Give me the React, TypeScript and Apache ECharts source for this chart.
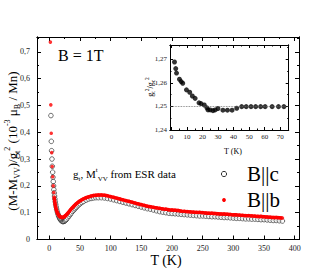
import React, { useEffect, useRef } from 'react';
import * as echarts from 'echarts';

// ---- main plot: B || c (open circles)
const tempC = [2.7, 3.3, 3.8, 4.4, 4.9, 5.5, 6.0, 6.5, 7.0, 7.5, 8.0, 8.6, 9.2, 9.8, 10.5, 11.2, 12, 13, 14, 15, 16, 17, 18, 19, 20, 21, 22, 23, 24, 25, 26, 27, 28, 30, 32, 34, 36, 38, 40, 42, 44, 46, 48, 50, 53, 56, 60, 64, 68, 72, 76, 80, 85, 90, 95, 100, 105, 110, 115, 120, 125, 130, 135, 140, 145, 150, 155, 160, 165, 170, 175, 180, 185, 190, 195, 200, 205, 210, 215, 220, 225, 230, 235, 240, 245, 250, 255, 260, 265, 270, 275, 280, 285, 290, 295, 300, 305, 310, 315, 320, 325, 330, 335, 340, 345, 350, 355, 360, 365, 370, 375, 380];
const momentC = [0.462, 0.366, 0.331, 0.300, 0.273, 0.251, 0.232, 0.216, 0.200, 0.186, 0.174, 0.162, 0.151, 0.141, 0.131, 0.122, 0.113, 0.104, 0.096, 0.089, 0.084, 0.079, 0.075, 0.072, 0.070, 0.068, 0.067, 0.067, 0.068, 0.069, 0.071, 0.073, 0.076, 0.081, 0.087, 0.093, 0.099, 0.105, 0.110, 0.115, 0.120, 0.125, 0.129, 0.133, 0.138, 0.142, 0.147, 0.151, 0.153, 0.155, 0.156, 0.156, 0.156, 0.155, 0.153, 0.151, 0.148, 0.145, 0.142, 0.139, 0.136, 0.133, 0.130, 0.127, 0.124, 0.121, 0.118, 0.115, 0.113, 0.110, 0.107, 0.104, 0.102, 0.100, 0.098, 0.097, 0.096, 0.095, 0.094, 0.093, 0.092, 0.091, 0.090, 0.089, 0.088, 0.088, 0.087, 0.086, 0.085, 0.085, 0.084, 0.083, 0.082, 0.082, 0.081, 0.080, 0.079, 0.079, 0.078, 0.077, 0.077, 0.076, 0.076, 0.075, 0.074, 0.074, 0.073, 0.072, 0.071, 0.071, 0.070, 0.069];

// ---- main plot: B || b (red dots)
const tempB = [1.8, 2.5, 3.2, 4.0, 4.8, 5.6, 6.5, 7.3, 8.0, 8.8, 9.6, 10.5, 11.5, 12.5, 13.5, 14.5, 15.5, 16.5, 17.5, 18.5, 19.5, 20.5, 21.5, 22.5, 23.5, 24.5, 25.5, 26.5, 27.5, 29, 31, 33, 35, 37, 39, 41, 43, 45, 47, 50, 53, 56, 60, 64, 68, 72, 76, 80, 85, 90, 95, 100, 105, 110, 115, 120, 125, 130, 135, 140, 145, 150, 155, 160, 165, 170, 175, 180, 185, 190, 195, 200, 205, 210, 215, 220, 225, 230, 235, 240, 245, 250, 255, 260, 265, 270, 275, 280, 285, 290, 295, 300, 305, 310, 315, 320, 325, 330, 335, 340, 345, 350, 355, 360, 365, 370, 375, 380];
const momentB = [0.736, 0.502, 0.396, 0.324, 0.272, 0.234, 0.200, 0.175, 0.158, 0.143, 0.131, 0.120, 0.111, 0.104, 0.098, 0.094, 0.090, 0.087, 0.085, 0.084, 0.083, 0.082, 0.082, 0.083, 0.084, 0.085, 0.087, 0.089, 0.091, 0.095, 0.100, 0.106, 0.112, 0.117, 0.122, 0.127, 0.131, 0.135, 0.139, 0.144, 0.148, 0.152, 0.156, 0.159, 0.162, 0.164, 0.165, 0.166, 0.166, 0.165, 0.163, 0.160, 0.157, 0.154, 0.151, 0.148, 0.145, 0.142, 0.139, 0.136, 0.133, 0.130, 0.127, 0.124, 0.122, 0.120, 0.118, 0.116, 0.114, 0.113, 0.111, 0.110, 0.109, 0.108, 0.106, 0.105, 0.104, 0.103, 0.102, 0.101, 0.101, 0.100, 0.099, 0.098, 0.098, 0.097, 0.096, 0.095, 0.095, 0.094, 0.093, 0.092, 0.092, 0.091, 0.090, 0.089, 0.089, 0.088, 0.087, 0.086, 0.086, 0.085, 0.084, 0.083, 0.082, 0.082, 0.081, 0.080];

// ---- inset: g ratio vs T
const insetT = [1.9, 2.7, 3.2, 5.1, 6.2, 7.2, 9.6, 11.7, 13.4, 15.2, 17.7, 19.0, 21.1, 22.8, 23.5, 24.9, 26.7, 28.1, 29.9, 33.1, 36.0, 39.0, 42.0, 45.2, 48.1, 51.2, 54.2, 57.4, 60.3, 64.8, 68.9, 72.4];
const insetRatio = [1.2688, 1.2660, 1.2641, 1.2615, 1.2605, 1.2598, 1.2570, 1.2560, 1.2544, 1.2534, 1.2515, 1.2512, 1.2506, 1.2494, 1.2485, 1.2485, 1.2482, 1.2485, 1.2491, 1.2484, 1.2484, 1.2484, 1.2492, 1.2499, 1.2499, 1.2499, 1.2499, 1.2499, 1.2499, 1.2499, 1.2499, 1.2499];
const insetRef = 1.25;

// ---- ticks
const mainXTicks = [0, 50, 100, 150, 200, 250, 300, 350, 400];
const mainXMinor = [25, 75, 125, 175, 225, 275, 325, 375];
const mainYTicks = [0, 0.1, 0.2, 0.3, 0.4, 0.5, 0.6, 0.7];
const mainYMinor = [0.05, 0.15, 0.25, 0.35, 0.45, 0.55, 0.65, 0.75];
const insetXTicks = [0, 10, 20, 30, 40, 50, 60, 70];
const insetXMinor = [5, 15, 25, 35, 45, 55, 65, 75];
const insetYTicks = [1.24, 1.25, 1.26, 1.27];
const insetYMinor = [1.245, 1.255, 1.265, 1.275];

const FONT = 'Liberation Serif';

const fmt = (v: number) => (v === 0 ? '0' : String(+v.toFixed(3)).replace('.', ','));

function axis(
  gridIndex: number,
  position: string,
  min: number,
  max: number,
  ticks: number[],
  len: number,
  label?: { fontSize: number; margin: number }
) {
  return {
    type: 'value',
    gridIndex,
    position,
    min,
    max,
    axisLine: { show: true, onZero: false, lineStyle: { color: '#000', width: 1 } },
    axisTick: { show: true, inside: true, length: len, customValues: ticks, lineStyle: { color: '#000', width: 1 } },
    axisLabel: label
      ? { show: true, customValues: ticks, formatter: fmt, fontSize: label.fontSize, fontFamily: FONT, color: '#222', margin: label.margin }
      : { show: false },
    splitLine: { show: false },
  };
}

export default function App() {
  const ref = useRef<HTMLDivElement>(null);
  useEffect(() => {
    if (!ref.current) return;
    const chart = echarts.init(ref.current, undefined, { renderer: 'svg' });
    const cData = tempC.map((t, i) => [t, momentC[i]]);
    const bData = tempB.map((t, i) => [t, momentB[i]]);
    const bBand = bData.filter((d) => d[0] >= 8);
    const iData = insetT.map((t, i) => [t, insetRatio[i]]);

    const rich = (n: number, s: number, lh: number) => ({
      n: { fontSize: n, fontFamily: FONT, lineHeight: lh, fill: '#000', verticalAlign: 'middle' },
      sub: { fontSize: s, fontFamily: FONT, lineHeight: s, fill: '#000', verticalAlign: 'bottom' },
      sup: { fontSize: s, fontFamily: FONT, lineHeight: s, fill: '#000', verticalAlign: 'top' },
    });

    chart.setOption({
      animation: false,
      backgroundColor: '#fff',
      grid: [
        { left: 37, top: 37, width: 262, height: 202.5, containLabel: false },
        { left: 170, top: 45, width: 118.7, height: 85, containLabel: false },
      ],
      xAxis: [
        axis(0, 'bottom', -20, 407, mainXTicks, 4, { fontSize: 8, margin: 5 }),
        axis(0, 'bottom', -20, 407, mainXMinor, 2),
        axis(0, 'top', -20, 407, mainXTicks, 4),
        axis(0, 'top', -20, 407, mainXMinor, 2),
        axis(1, 'bottom', -1, 75.5, insetXTicks, 3, { fontSize: 7, margin: 3 }),
        axis(1, 'bottom', -1, 75.5, insetXMinor, 1.5),
        axis(1, 'top', -1, 75.5, insetXTicks, 3),
        axis(1, 'top', -1, 75.5, insetXMinor, 1.5),
      ],
      yAxis: [
        axis(0, 'left', 0, 0.755, mainYTicks, 4, { fontSize: 8, margin: 7 }),
        axis(0, 'left', 0, 0.755, mainYMinor, 2),
        axis(0, 'right', 0, 0.755, mainYTicks, 4),
        axis(0, 'right', 0, 0.755, mainYMinor, 2),
        axis(1, 'left', 1.24, 1.276, insetYTicks, 3, { fontSize: 7, margin: 3 }),
        axis(1, 'left', 1.24, 1.276, insetYMinor, 1.5),
        axis(1, 'right', 1.24, 1.276, insetYTicks, 3),
        axis(1, 'right', 1.24, 1.276, insetYMinor, 1.5),
      ],
      series: [
        {
          name: 'B||c',
          type: 'scatter',
          xAxisIndex: 0,
          yAxisIndex: 0,
          data: cData,
          symbol: 'circle',
          symbolSize: 4.6,
          itemStyle: { color: '#fff', borderColor: '#000', borderWidth: 0.7 },
          z: 2,
        },
        {
          name: 'B||b band',
          type: 'line',
          xAxisIndex: 0,
          yAxisIndex: 0,
          data: bBand,
          showSymbol: false,
          symbol: 'none',
          lineStyle: { color: '#ff0000', width: 3.4 },
          z: 3,
        },
        {
          name: 'B||b',
          type: 'scatter',
          xAxisIndex: 0,
          yAxisIndex: 0,
          data: bData,
          symbol: 'circle',
          symbolSize: 3.6,
          itemStyle: { color: '#ff0000' },
          z: 4,
        },
        {
          name: 'inset',
          type: 'scatter',
          xAxisIndex: 4,
          yAxisIndex: 4,
          data: iData,
          symbol: 'circle',
          symbolSize: 5,
          itemStyle: { color: '#000' },
          markLine: {
            silent: true,
            symbol: ['none', 'none'],
            label: { show: false },
            lineStyle: { color: '#666', width: 0.8, type: 'dotted' },
            data: [{ yAxis: insetRef }],
          },
          z: 3,
        },
      ],
      graphic: [
        {
          type: 'text', x: 12, y: 141, rotation: Math.PI / 2,
          style: {
            text: '{n|(M-M}{sub|VV}{n|)/g}{sub|t}{sup|2}{n| (10}{sup|-3}{n| μ}{sub|B}{n| / Mn)}',
            rich: rich(13, 8, 18), align: 'center', verticalAlign: 'middle',
          },
        },
        {
          type: 'text', x: 166, y: 260,
          style: { text: 'T (K)', fontSize: 14, fontFamily: FONT, fill: '#000', align: 'center', verticalAlign: 'middle' },
        },
        {
          type: 'text', x: 58, y: 55,
          style: { text: 'B = 1T', fontSize: 16, fontFamily: FONT, fill: '#000', align: 'left', verticalAlign: 'middle' },
        },
        {
          type: 'text', x: 73, y: 174,
          style: {
            text: '{n|g}{sub|t}{n|, M}{sup|t}{sub|VV}{n| from ESR data}',
            rich: rich(11, 7, 16), align: 'left', verticalAlign: 'middle',
          },
        },
        {
          type: 'text', x: 150, y: 87, rotation: Math.PI / 2,
          style: {
            text: '{n|g}{sub|t}{sup|2}{n|/g}{sub|c}{sup|2}',
            rich: rich(8, 5.5, 12), align: 'center', verticalAlign: 'middle',
          },
        },
        {
          type: 'text', x: 233, y: 151,
          style: { text: 'T (K)', fontSize: 8, fontFamily: FONT, fill: '#000', align: 'center', verticalAlign: 'middle' },
        },
        { type: 'circle', shape: { cx: 224, cy: 174, r: 2.6 }, style: { fill: 'none', stroke: '#000', lineWidth: 0.8 } },
        { type: 'circle', shape: { cx: 224, cy: 200, r: 1.9 }, style: { fill: '#ff0000' } },
        {
          type: 'text', x: 247, y: 174,
          style: { text: 'B||c', fontSize: 21, fontFamily: FONT, fill: '#000', align: 'left', verticalAlign: 'middle' },
        },
        {
          type: 'text', x: 247, y: 200,
          style: { text: 'B||b', fontSize: 21, fontFamily: FONT, fill: '#000', align: 'left', verticalAlign: 'middle' },
        },
      ],
    });
    return () => chart.dispose();
  }, []);
  return <div ref={ref} style={{ position: 'fixed', left: 0, top: 0, width: 332, height: 268 }} />;
}
